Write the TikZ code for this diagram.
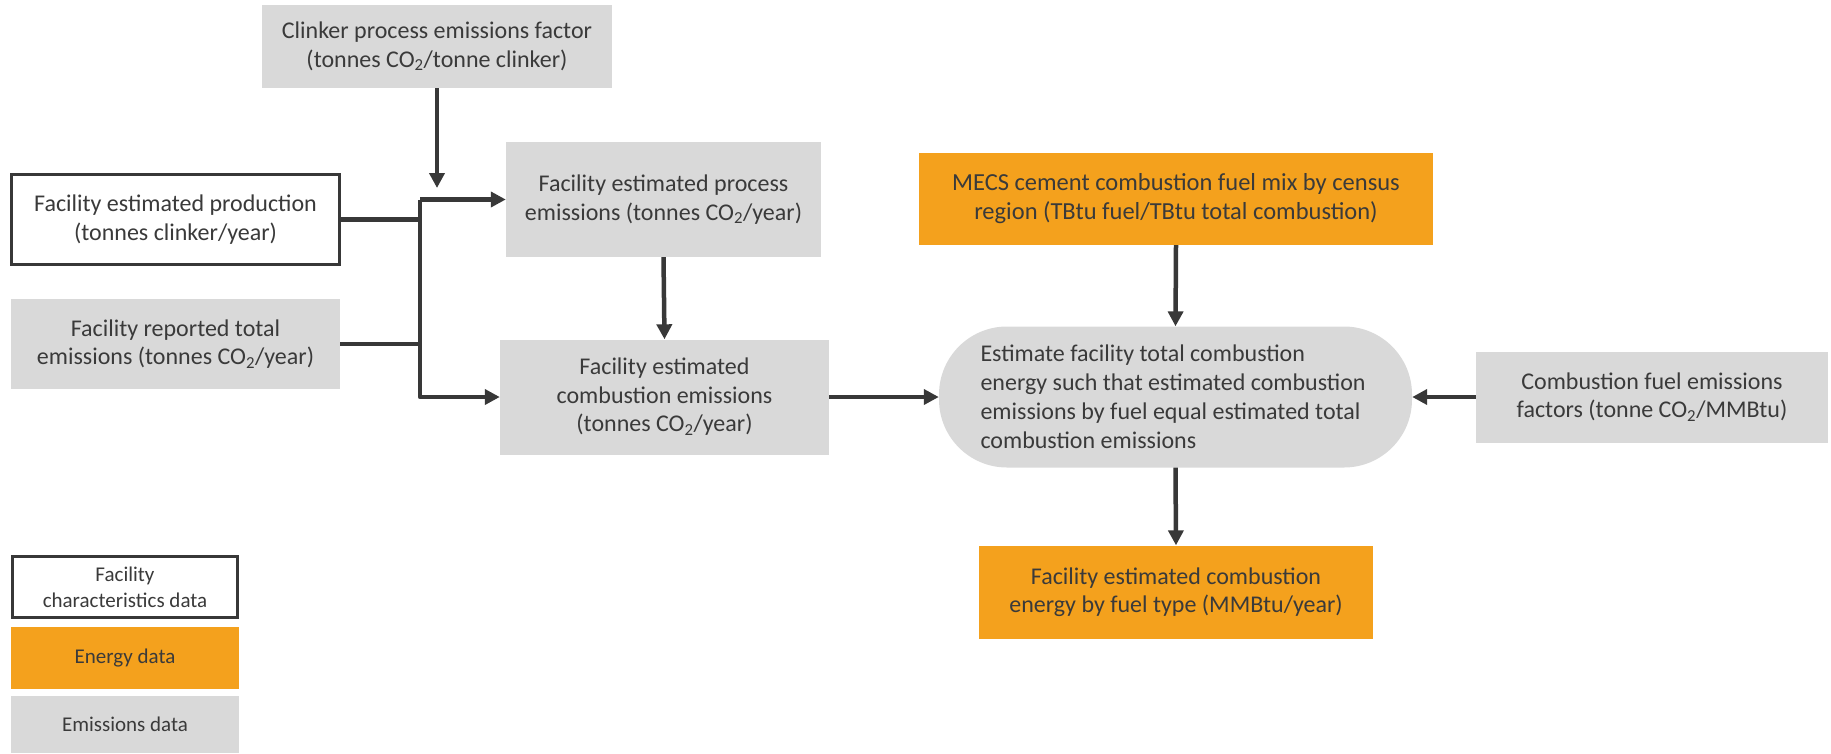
\documentclass[tikz,border=0pt]{standalone}
\usepackage{fontspec}
\setmainfont{Carlito}
\usetikzlibrary{arrows.meta}
\definecolor{emisgray}{HTML}{D9D9D9}
\definecolor{energyorange}{HTML}{F4A11D}
\definecolor{txtgray}{HTML}{3A3A3A}
\definecolor{arrowgray}{HTML}{383838}
\tikzset{
  box/.style={rectangle, align=center, inner sep=0pt, text=txtgray,
    font=\fontsize{24}{28.5}\selectfont},
  emisbox/.style={box, fill=emisgray},
  energybox/.style={box, fill=energyorange},
  facilbox/.style={box, draw=arrowgray, line width=3pt, fill=white},
  legendtext/.style={font=\fontsize{21}{26}\selectfont},
  link/.style={draw=arrowgray, line width=4.5pt, line join=round},
  flow/.style={link, -{Triangle[length=15pt,width=15pt]}},
}
\begin{document}
\begin{tikzpicture}[x=1pt, y=-1pt]
    \useasboundingbox (0,0) rectangle (1831,753);
    % inputs on the left
    \node[emisbox, minimum width=350, minimum height=83] (clinker) at (437,46.5)
        {Clinker process emissions factor\\(tonnes CO\textsubscript{2}/tonne clinker)};
    \node[facilbox, minimum width=328, minimum height=90] (prod) at (175.5,219.5)
        {Facility estimated production\\(tonnes clinker/year)};
    \node[emisbox, minimum width=329, minimum height=90] (rep) at (175.5,344)
        {Facility reported total\\emissions (tonnes CO\textsubscript{2}/year)};
    % estimated emissions
    \node[emisbox, minimum width=315, minimum height=115] (proc) at (663.5,199.5)
        {Facility estimated process\\emissions (tonnes CO\textsubscript{2}/year)};
    \node[emisbox, minimum width=329, minimum height=115] (comb) at (664.5,397)
        {Facility estimated\\combustion emissions\\(tonnes CO\textsubscript{2}/year)};
    % energy side
    \node[energybox, minimum width=514, minimum height=92, font=\fontsize{24.5}{29}\selectfont] (mecs) at (1176,199)
        {MECS cement combustion fuel mix by census\\region (TBtu fuel/TBtu total combustion)};
    \node[emisbox, minimum width=473, minimum height=141, rounded corners=68pt,
        text width=390pt, align=flush left, font=\fontsize{24}{29}\selectfont] (stad) at (1175.5,397)
        {Estimate facility total combustion\\energy such that estimated combustion\\emissions by fuel equal estimated total\\combustion emissions};
    \node[emisbox, minimum width=352, minimum height=91] (fuel) at (1652,397)
        {Combustion fuel emissions\\factors (tonne CO\textsubscript{2}/MMBtu)};
    \node[energybox, minimum width=394, minimum height=93] (energy) at (1176,592)
        {Facility estimated combustion\\energy by fuel type (MMBtu/year)};
    % legend
    \node[facilbox, legendtext, minimum width=225, minimum height=61] (legfac) at (125,587)
        {Facility\\characteristics data};
    \node[energybox, legendtext, minimum width=228, minimum height=62] (legen) at (125,658)
        {Energy data};
    \node[emisbox, legendtext, minimum width=228, minimum height=57] (legem) at (125,724.5)
        {Emissions data};
    % connectors
    \coordinate (trunk) at (420,0);
    \coordinate (clinkend) at (437,188);
    \draw[flow] (clinker.south) -- (clinkend);
    \draw[link] (prod.east) -- (prod.east -| trunk);
    \draw[link] (rep.east) -- (rep.east -| trunk);
    \draw[flow] (proc.west -| trunk) -- (proc.west);
    \draw[flow] (proc.west -| trunk) |- (comb.west);
    \draw[flow] (proc.south) -- (comb.north);
    \draw[flow] (comb.east) -- (stad.west);
    \draw[flow] (mecs.south) -- (stad.north);
    \draw[flow] (fuel.west) -- (stad.east);
    \draw[flow] (stad.south) -- (energy.north);
\end{tikzpicture}
\end{document}
